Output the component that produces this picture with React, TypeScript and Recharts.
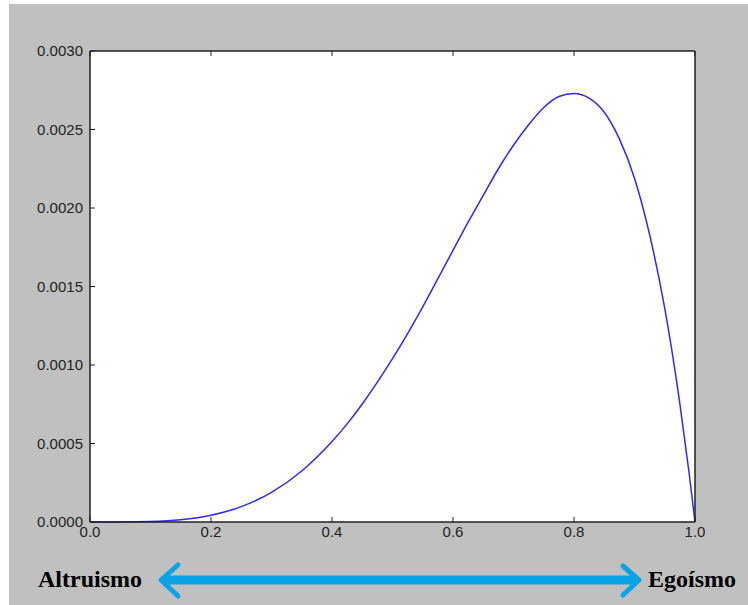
import { LineChart, Line, XAxis, YAxis, CartesianGrid } from "recharts";

const xs = [0, 0.05, 0.1, 0.15, 0.2, 0.25, 0.3, 0.35, 0.4, 0.425, 0.45, 0.475, 0.5, 0.525, 0.55, 0.575, 0.6, 0.625, 0.65, 0.675, 0.7, 0.725, 0.75, 0.775, 0.8, 0.825, 0.85, 0.875, 0.9, 0.925, 0.95, 0.975, 0.99, 1.0];
const density = [0, 0.0000002, 0.000003, 0.0000143, 0.0000427, 0.0000977, 0.000189, 0.000325, 0.000512, 0.000625, 0.000752, 0.000891, 0.00104, 0.0012, 0.00137, 0.00155, 0.00173, 0.00191, 0.00208, 0.00225, 0.0024, 0.00253, 0.00264, 0.00271, 0.00273, 0.0027, 0.00261, 0.00244, 0.00219, 0.00183, 0.00136, 0.000753, 0.00032, 0];

const xTicks = [0, 0.2, 0.4, 0.6, 0.8, 1.0];
const yTicks = [0, 0.0005, 0.001, 0.0015, 0.002, 0.0025, 0.003];

const data = xs.map((x, i) => ({ x, y: density[i] }));

const W = 748;
const H = 605;
const axisColor = "#222";
const tickFont = { fontSize: 15, fill: "#222", fontFamily: "'Liberation Sans', Arial, sans-serif" };
const noLabel = () => <g />;

export default function App() {
  return (
    <div style={{ position: "absolute", left: 0, top: 0, width: W, height: H, background: "#fff" }}>
      <div style={{ position: "absolute", left: 9, top: 4, right: 0, bottom: 0, background: "#c0c0c0" }} />
      <div style={{ position: "absolute", left: 0, top: 0 }}>
        <LineChart width={W} height={H} data={data} margin={{ top: 0, right: 0, bottom: 0, left: 0 }}>
          <CartesianGrid horizontal={false} vertical={false} fill="#fff" />
          <XAxis
            dataKey="x"
            type="number"
            domain={[0, 1]}
            ticks={xTicks}
            tickFormatter={(v: number) => v.toFixed(1)}
            height={83}
            tickSize={-5}
            tickMargin={9}
            tick={tickFont}
            axisLine={{ stroke: axisColor, strokeWidth: 1.5 }}
            tickLine={{ stroke: axisColor }}
          />
          <XAxis
            xAxisId="top"
            orientation="top"
            dataKey="x"
            type="number"
            domain={[0, 1]}
            ticks={xTicks}
            height={51}
            tickSize={-5}
            tick={noLabel}
            axisLine={{ stroke: axisColor, strokeWidth: 1.5 }}
            tickLine={{ stroke: axisColor }}
          />
          <YAxis
            type="number"
            domain={[0, 0.003]}
            ticks={yTicks}
            tickFormatter={(v: number) => v.toFixed(4)}
            width={90}
            tickSize={-5}
            tickMargin={12}
            tick={tickFont}
            axisLine={{ stroke: axisColor, strokeWidth: 1.5 }}
            tickLine={{ stroke: axisColor }}
          />
          <YAxis
            yAxisId="right"
            orientation="right"
            type="number"
            domain={[0, 0.003]}
            ticks={yTicks}
            width={53}
            tickSize={-5}
            tick={noLabel}
            axisLine={{ stroke: axisColor, strokeWidth: 1.5 }}
            tickLine={{ stroke: axisColor }}
          />
          <Line
            type="monotone"
            dataKey="y"
            stroke="#2b2bff"
            strokeWidth={1.5}
            dot={false}
            isAnimationActive={false}
          />
        </LineChart>
      </div>
      <svg width={W} height={H} style={{ position: "absolute", left: 0, top: 0, pointerEvents: "none" }}>
        <g stroke="#0aa3e6" fill="none" strokeLinecap="round" strokeLinejoin="round">
          <line x1={163} y1={580} x2={637} y2={580} strokeWidth={9} strokeLinecap="butt" />
          <polyline points="178,565 161,580 178,596" strokeWidth={5} />
          <polyline points="623,566 639,580 623,595" strokeWidth={5} />
        </g>
        <g fontFamily="'Liberation Serif', 'Times New Roman', serif" fontWeight="bold" fontSize={24} fill="#000">
          <text x={38} y={587}>Altruismo</text>
          <text x={648} y={587}>Egoísmo</text>
        </g>
      </svg>
    </div>
  );
}
